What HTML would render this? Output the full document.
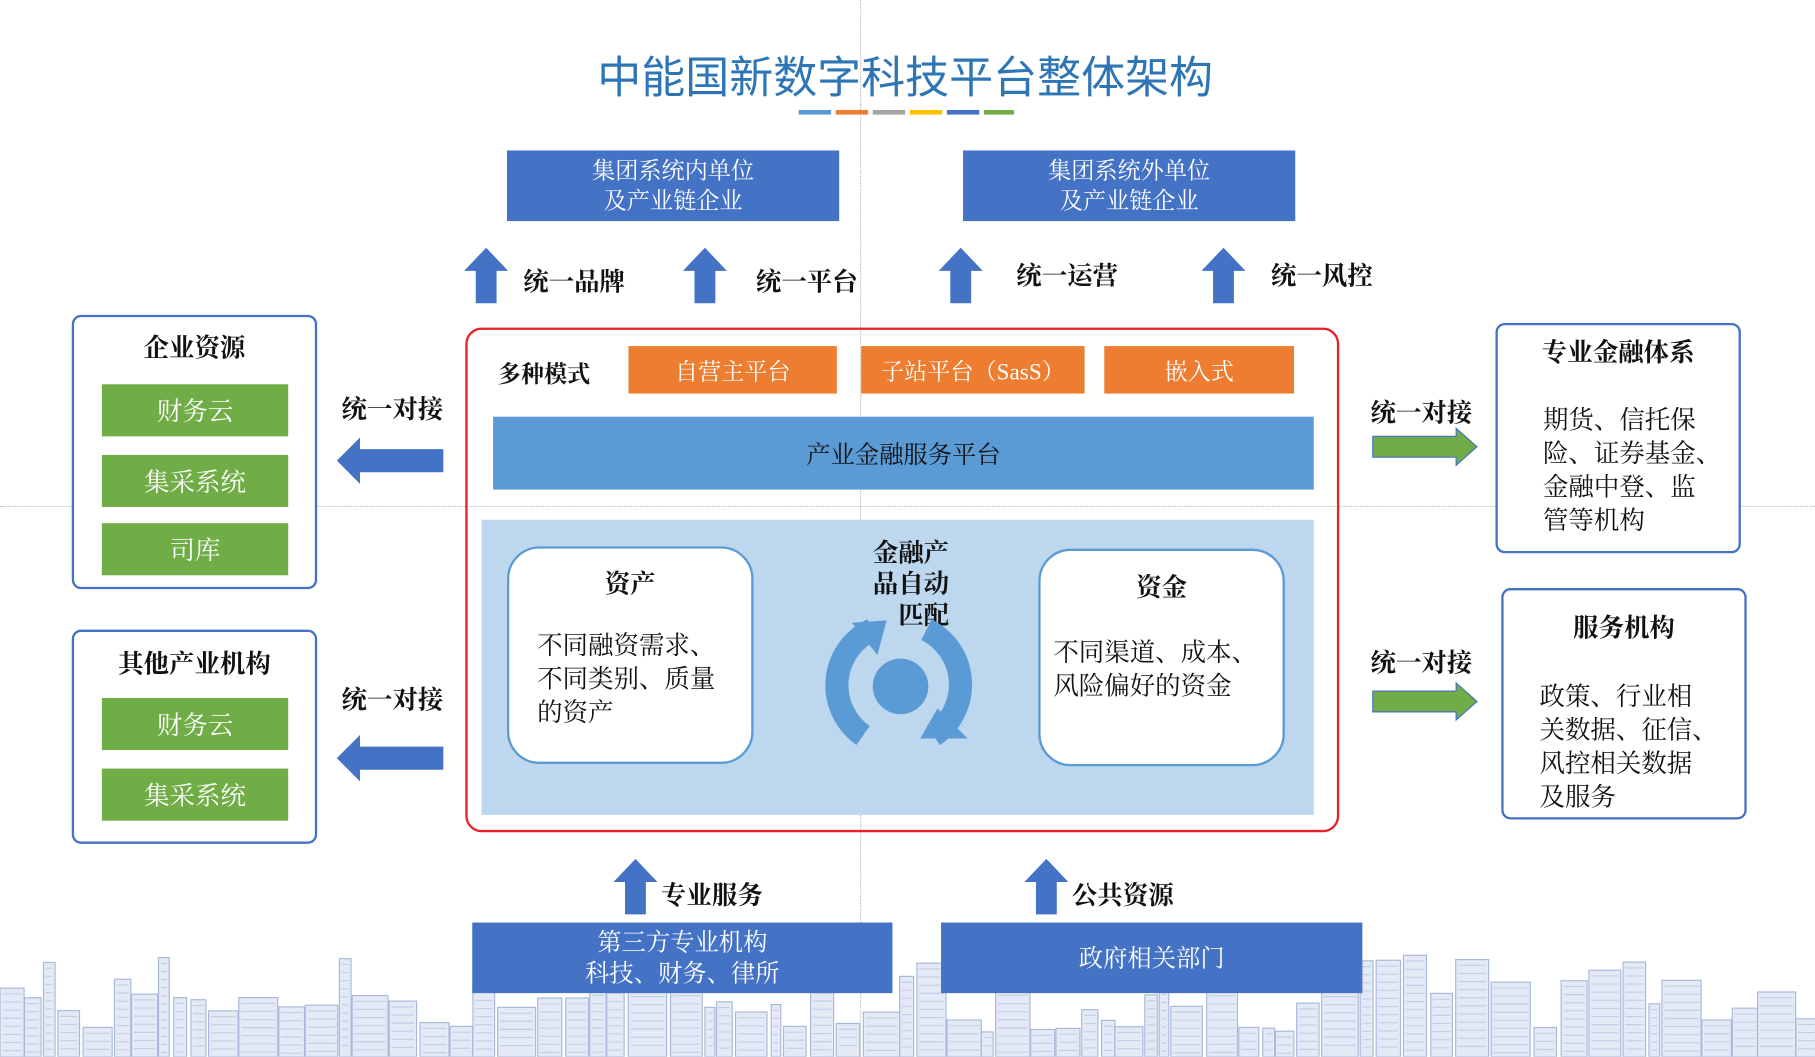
<!DOCTYPE html>
<html><head><meta charset="utf-8"><style>
*{margin:0;padding:0;box-sizing:border-box}
html,body{width:1815px;height:1057px;overflow:hidden;background:#fff}
#s{position:absolute;left:0;top:0;width:1568px;height:913px;transform:scale(1.1575);transform-origin:0 0;font-family:"Liberation Serif","Noto Serif CJK SC",serif;color:#111}
.a{position:absolute}
.bb{position:absolute;background:#4472c4;color:#fff;font-size:20px;line-height:26px;text-align:center;display:flex;flex-direction:column;justify-content:center}
.or{position:absolute;background:#ed7d31;color:#fff;font-size:20px;display:flex;align-items:center;justify-content:center;top:299px;height:41px}
.gr{position:absolute;background:#70ad47;color:#fff;font-size:22px;display:flex;align-items:center;justify-content:center;left:88px;width:161px;height:45px}
.lb{position:absolute;border:2px solid #4472c4;border-radius:8px;background:#fff}
.t{position:absolute;font-size:22px;white-space:nowrap}
.b{font-weight:bold}
</style></head><body><div id="s">
<svg class="a" style="left:0;top:820px" width="1568" height="93" id="sky"></svg>
<div class="a" style="left:743px;top:0;height:913px;border-left:1px dotted #bbb"></div>
<div class="a" style="left:0;top:437px;width:1568px;border-top:1px dotted #bbb"></div>
<div class="a" style="left:0;top:36px;width:1564px;text-align:center;font-size:38px;color:#2e75b6;font-family:'Liberation Sans','Noto Sans CJK SC',sans-serif">中能国新数字科技平台整体架构</div>
<div class="a" style="left:690px;top:95px;width:28px;height:4px;background:#5b9bd5"></div>
<div class="a" style="left:722px;top:95px;width:28px;height:4px;background:#ed7d31"></div>
<div class="a" style="left:754px;top:95px;width:28px;height:4px;background:#a5a5a5"></div>
<div class="a" style="left:786px;top:95px;width:28px;height:4px;background:#ffc000"></div>
<div class="a" style="left:818px;top:95px;width:28px;height:4px;background:#4472c4"></div>
<div class="a" style="left:850px;top:95px;width:26px;height:4px;background:#70ad47"></div>

<div class="bb" style="left:438px;top:130px;width:287px;height:61px">集团系统内单位<br>及产业链企业</div>
<div class="bb" style="left:832px;top:130px;width:287px;height:61px">集团系统外单位<br>及产业链企业</div>

<svg class="a" style="left:0;top:0" width="1568" height="913">
<defs><g id="ua"><polygon points="-19,20 0,0 19,20 9,20 9,48 -9,48 -9,20" fill="#4472c4"/></g></defs>
<use href="#ua" x="420" y="214"/><use href="#ua" x="609" y="214"/><use href="#ua" x="830" y="214"/><use href="#ua" x="1057" y="214"/>
<use href="#ua" x="549" y="742"/><use href="#ua" x="904" y="742"/>
<polygon points="291,398 311,378 311,388 383,388 383,408 311,408 311,418" fill="#4472c4"/>
<polygon points="291,655 311,635 311,645 383,645 383,665 311,665 311,675" fill="#4472c4"/>
<polygon points="1186,377 1258,377 1258,370 1276,386 1258,402 1258,395 1186,395" fill="#70ad47" stroke="#4472c4" stroke-width="1"/>
<polygon points="1186,597 1258,597 1258,590 1276,606 1258,622 1258,615 1186,615" fill="#70ad47" stroke="#4472c4" stroke-width="1"/>
</svg>
<div class="t b" style="left:452px;top:227px">统一品牌</div>
<div class="t b" style="left:653px;top:227px">统一平台</div>
<div class="t b" style="left:878px;top:222px">统一运营</div>
<div class="t b" style="left:1098px;top:222px">统一风控</div>

<div class="a" style="left:402px;top:283px;width:755px;height:436px;border:2px solid #e8202a;border-radius:14px"></div>
<div class="t b" style="left:430px;top:307px;font-size:20px">多种模式</div>
<div class="or" style="left:543px;width:180px">自营主平台</div>
<div class="or" style="left:744px;width:193px">子站平台（SasS）</div>
<div class="or" style="left:954px;width:164px">嵌入式</div>
<div class="a" style="left:426px;top:360px;width:709px;height:63px;background:#5b9bd5;display:flex;align-items:center;justify-content:center;font-size:21px" >产业金融服务平台</div>
<div class="a" style="left:416px;top:449px;width:719px;height:255px;background:#bdd7ee"></div>
<div class="a" style="left:438px;top:472px;width:213px;height:188px;background:#fff;border:2px solid #5b9bd5;border-radius:28px"></div>
<div class="t b" style="left:438px;width:213px;text-align:center;top:488px">资产</div>
<div class="t" style="left:464px;top:543px;line-height:29px">不同融资需求、<br>不同类别、质量<br>的资产</div>
<div class="a" style="left:897px;top:474px;width:213px;height:188px;background:#fff;border:2px solid #5b9bd5;border-radius:28px"></div>
<div class="t b" style="left:897px;width:213px;text-align:center;top:491px">资金</div>
<div class="t" style="left:910px;top:549px;line-height:29px">不同渠道、成本、<br>风险偏好的资金</div>
<div class="t b" style="left:748px;top:464px;line-height:27px;text-align:right;width:72px">金融产<br>品自动<br>匹配</div>
<svg class="a" style="left:0;top:0" width="1568" height="913">
<circle cx="778" cy="593" r="24" fill="#5b9bd5"/>
<path d="M745.6 635.4 A53 53 0 0 1 753.6 544" fill="none" stroke="#5b9bd5" stroke-width="20"/>
<polygon points="736,538 766,536 758,566" fill="#5b9bd5"/>
<path d="M800.4 544 A53 53 0 0 1 806.4 635.4" fill="none" stroke="#5b9bd5" stroke-width="20"/>
<polygon points="795,638 836,638 810,612" fill="#5b9bd5"/>
</svg>

<div class="lb" style="left:62px;top:272px;width:212px;height:237px"></div>
<div class="t b" style="left:62px;width:212px;text-align:center;top:284px">企业资源</div>
<div class="gr" style="top:332px">财务云</div>
<div class="gr" style="top:393px">集采系统</div>
<div class="gr" style="top:452px">司库</div>
<div class="lb" style="left:62px;top:544px;width:212px;height:185px"></div>
<div class="t b" style="left:62px;width:212px;text-align:center;top:557px">其他产业机构</div>
<div class="gr" style="top:603px">财务云</div>
<div class="gr" style="top:664px">集采系统</div>
<div class="t b" style="left:295px;top:337px">统一对接</div>
<div class="t b" style="left:295px;top:588px">统一对接</div>

<div class="t b" style="left:1184px;top:340px">统一对接</div>
<div class="t b" style="left:1184px;top:556px">统一对接</div>
<div class="lb" style="left:1292px;top:279px;width:212px;height:199px"></div>
<div class="t b" style="left:1292px;width:212px;text-align:center;top:288px">专业金融体系</div>
<div class="t" style="left:1333px;top:348px;line-height:29px">期货、信托保<br>险、证券基金、<br>金融中登、监<br>管等机构</div>
<div class="lb" style="left:1297px;top:508px;width:212px;height:200px"></div>
<div class="t b" style="left:1297px;width:212px;text-align:center;top:526px">服务机构</div>
<div class="t" style="left:1330px;top:587px;line-height:29px">政策、行业相<br>关数据、征信、<br>风控相关数据<br>及服务</div>

<div class="bb" style="left:408px;top:797px;width:363px;height:61px;font-size:21px;line-height:27px">第三方专业机构<br>科技、财务、律所</div>
<div class="bb" style="left:813px;top:797px;width:364px;height:61px;font-size:21px">政府相关部门</div>
<div class="t b" style="left:571px;top:757px">专业服务</div>
<div class="t b" style="left:926px;top:757px">公共资源</div>
</div>
<script>
(function(){var s=document.getElementById('sky'),h='',x=0,seed=7;function r(){seed=(seed*9301+49297)%233280;return seed/233280;}
while(x<1568){var w=8+r()*26,ht=20+r()*70;h+='<rect x="'+x.toFixed(1)+'" y="'+(93-ht).toFixed(1)+'" width="'+w.toFixed(1)+'" height="'+ht.toFixed(1)+'" fill="#e3e9f5" stroke="#a9b8da" stroke-width="1"/>';
for(var yy=93-ht+5;yy<90;yy+=7)h+='<line x1="'+(x+2).toFixed(1)+'" x2="'+(x+w-2).toFixed(1)+'" y1="'+yy.toFixed(1)+'" y2="'+yy.toFixed(1)+'" stroke="#c3cee6" stroke-width="1"/>';
x+=w+r()*4;}s.innerHTML=h;})();
</script>
</body></html>
